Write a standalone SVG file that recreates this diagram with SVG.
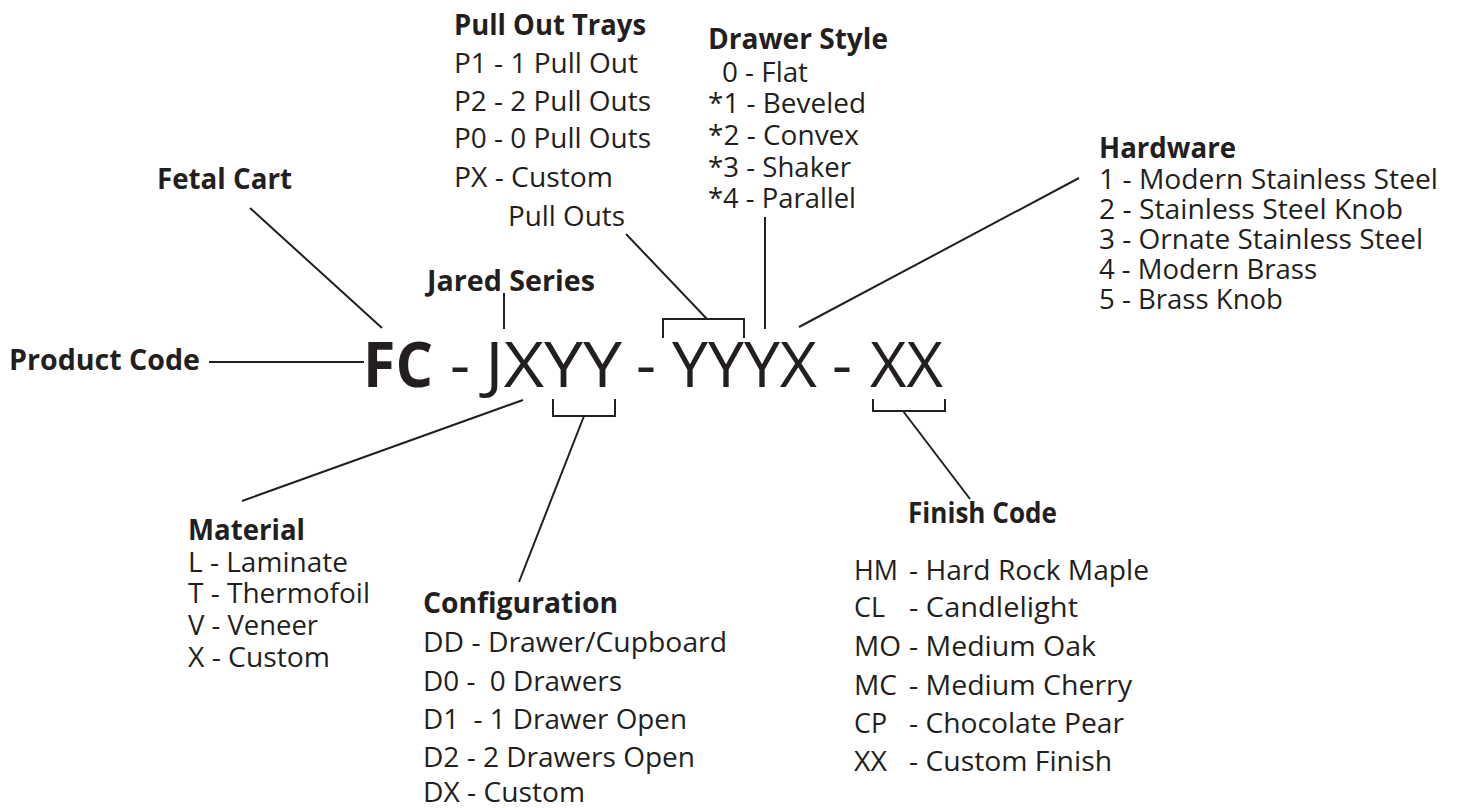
<svg xmlns="http://www.w3.org/2000/svg" width="1458" height="808" viewBox="0 0 1458 808">
<style>
text{font-family:"Open Sans","Noto Sans","Liberation Sans",sans-serif;fill:#231f20;white-space:pre}
.h{font-weight:700;font-size:29px}
.t{font-size:28px}
.code{font-size:62px}
.conn line,.conn path{stroke:#231f20;stroke-width:2;fill:none}
</style>
<rect width="1458" height="808" fill="#fff"/>
<g class="conn" id="connectors">
<line x1="250" y1="208" x2="382" y2="328"/>
<line x1="209" y1="362" x2="364" y2="362"/>
<line x1="504" y1="293" x2="504" y2="329"/>
<line x1="626" y1="234" x2="707" y2="319"/>
<path d="M663,338 V319 H744 V338"/>
<line x1="765" y1="217" x2="765" y2="329"/>
<line x1="1079" y1="178" x2="799" y2="327"/>
<line x1="523" y1="400" x2="242" y2="501"/>
<path d="M553,399 V416 H615 V399"/>
<line x1="584" y1="416" x2="519" y2="582"/>
<path d="M873,399 V411 H945 V399"/>
<line x1="903" y1="411" x2="970" y2="499"/>
</g>
<g id="code">
<text class="code" x="363" y="387" font-weight="700" textLength="70" lengthAdjust="spacingAndGlyphs">FC</text>
<text class="code" x="460" y="387" text-anchor="middle">-</text>
<text class="code" x="485" y="387" textLength="137" lengthAdjust="spacingAndGlyphs">JXYY</text>
<text class="code" x="646" y="387" text-anchor="middle">-</text>
<text class="code" x="672" y="387" textLength="145" lengthAdjust="spacingAndGlyphs">YYYX</text>
<text class="code" x="842" y="387" text-anchor="middle">-</text>
<text class="code" x="870" y="387" textLength="73" lengthAdjust="spacingAndGlyphs">XX</text>
</g>
<g id="fetal-cart"><text class="h" x="157" y="189" textLength="135" lengthAdjust="spacingAndGlyphs">Fetal Cart</text></g>
<g id="product-code"><text class="h" x="9" y="370" textLength="191" lengthAdjust="spacingAndGlyphs">Product Code</text></g>
<g id="jared-series"><text class="h" x="427" y="291" textLength="168" lengthAdjust="spacingAndGlyphs">Jared Series</text></g>
<g id="pull-out-trays">
<text class="h" x="454" y="35" textLength="192" lengthAdjust="spacingAndGlyphs">Pull Out Trays</text>
<text class="t" x="454" y="73" textLength="184" lengthAdjust="spacingAndGlyphs">P1 - 1 Pull Out</text>
<text class="t" x="454" y="111" textLength="197" lengthAdjust="spacingAndGlyphs">P2 - 2 Pull Outs</text>
<text class="t" x="454" y="148" textLength="197" lengthAdjust="spacingAndGlyphs">P0 - 0 Pull Outs</text>
<text class="t" x="454" y="187" textLength="159" lengthAdjust="spacingAndGlyphs">PX - Custom</text>
<text class="t" x="508" y="226" textLength="117" lengthAdjust="spacingAndGlyphs">Pull Outs</text>
</g>
<g id="drawer-style">
<text class="h" x="708" y="49" textLength="180" lengthAdjust="spacingAndGlyphs">Drawer Style</text>
<text class="t" x="722" y="82" textLength="86" lengthAdjust="spacingAndGlyphs">0 - Flat</text>
<text class="t" x="708" y="113" textLength="158" lengthAdjust="spacingAndGlyphs">*1 - Beveled</text>
<text class="t" x="708" y="145" textLength="151" lengthAdjust="spacingAndGlyphs">*2 - Convex</text>
<text class="t" x="708" y="177" textLength="143" lengthAdjust="spacingAndGlyphs">*3 - Shaker</text>
<text class="t" x="708" y="208" textLength="148" lengthAdjust="spacingAndGlyphs">*4 - Parallel</text>
</g>
<g id="hardware">
<text class="h" x="1099" y="158" textLength="137" lengthAdjust="spacingAndGlyphs">Hardware</text>
<text class="t" x="1099" y="189" textLength="339" lengthAdjust="spacingAndGlyphs">1 - Modern Stainless Steel</text>
<text class="t" x="1099" y="219" textLength="304" lengthAdjust="spacingAndGlyphs">2 - Stainless Steel Knob</text>
<text class="t" x="1099" y="249" textLength="324" lengthAdjust="spacingAndGlyphs">3 - Ornate Stainless Steel</text>
<text class="t" x="1099" y="279" textLength="218" lengthAdjust="spacingAndGlyphs">4 - Modern Brass</text>
<text class="t" x="1099" y="309" textLength="184" lengthAdjust="spacingAndGlyphs">5 - Brass Knob</text>
</g>
<g id="material">
<text class="h" x="188" y="540" textLength="117" lengthAdjust="spacingAndGlyphs">Material</text>
<text class="t" x="188" y="572" textLength="160" lengthAdjust="spacingAndGlyphs">L - Laminate</text>
<text class="t" x="188" y="603" textLength="182" lengthAdjust="spacingAndGlyphs">T - Thermofoil</text>
<text class="t" x="188" y="635" textLength="130" lengthAdjust="spacingAndGlyphs">V - Veneer</text>
<text class="t" x="188" y="667" textLength="142" lengthAdjust="spacingAndGlyphs">X - Custom</text>
</g>
<g id="configuration">
<text class="h" x="423" y="613" textLength="195" lengthAdjust="spacingAndGlyphs">Configuration</text>
<text class="t" x="423" y="652" textLength="304" lengthAdjust="spacingAndGlyphs">DD - Drawer/Cupboard</text>
<text class="t" x="423" y="691" textLength="199" lengthAdjust="spacingAndGlyphs">D0 -  0 Drawers</text>
<text class="t" x="423" y="729" textLength="264" lengthAdjust="spacingAndGlyphs">D1  - 1 Drawer Open</text>
<text class="t" x="423" y="767" textLength="272" lengthAdjust="spacingAndGlyphs">D2 - 2 Drawers Open</text>
<text class="t" x="423" y="802" textLength="162" lengthAdjust="spacingAndGlyphs">DX - Custom</text>
</g>
<g id="finish-code">
<text class="h" x="908" y="523" textLength="149" lengthAdjust="spacingAndGlyphs">Finish Code</text>
<text class="t" x="854" y="580" textLength="44" lengthAdjust="spacingAndGlyphs">HM</text>
<text class="t" x="909" y="580" textLength="240" lengthAdjust="spacingAndGlyphs">- Hard Rock Maple</text>
<text class="t" x="854" y="617" textLength="31" lengthAdjust="spacingAndGlyphs">CL</text>
<text class="t" x="909" y="617" textLength="169" lengthAdjust="spacingAndGlyphs">- Candlelight</text>
<text class="t" x="854" y="656" textLength="47" lengthAdjust="spacingAndGlyphs">MO</text>
<text class="t" x="909" y="656" textLength="187" lengthAdjust="spacingAndGlyphs">- Medium Oak</text>
<text class="t" x="854" y="695" textLength="43" lengthAdjust="spacingAndGlyphs">MC</text>
<text class="t" x="909" y="695" textLength="223" lengthAdjust="spacingAndGlyphs">- Medium Cherry</text>
<text class="t" x="854" y="733" textLength="33" lengthAdjust="spacingAndGlyphs">CP</text>
<text class="t" x="909" y="733" textLength="215" lengthAdjust="spacingAndGlyphs">- Chocolate Pear</text>
<text class="t" x="854" y="771" textLength="33" lengthAdjust="spacingAndGlyphs">XX</text>
<text class="t" x="909" y="771" textLength="203" lengthAdjust="spacingAndGlyphs">- Custom Finish</text>
</g>
</svg>
